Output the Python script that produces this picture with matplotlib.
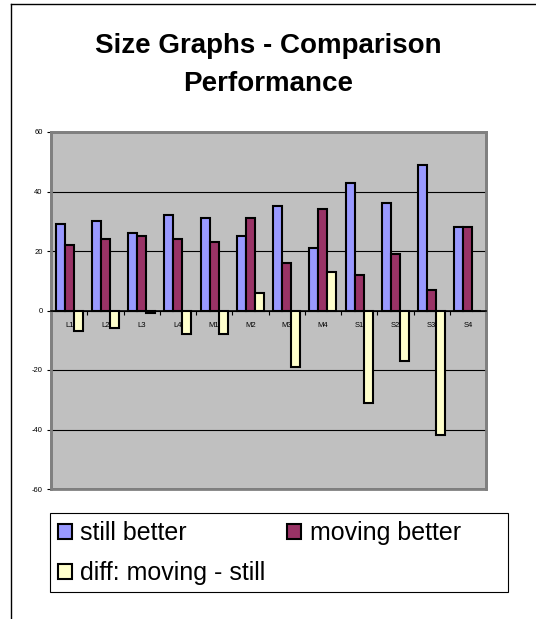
import matplotlib.pyplot as plt
import numpy as np
from matplotlib.patches import Rectangle
from matplotlib.lines import Line2D

plt.rcParams['font.family'] = ['Liberation Sans', 'DejaVu Sans']
plt.rcParams['axes.unicode_minus'] = False

categories = ['L1', 'L2', 'L3', 'L4', 'M1', 'M2', 'M3', 'M4', 'S1', 'S2', 'S3', 'S4']
still_better = [29, 30, 26, 32, 31, 25, 35, 21, 43, 36, 49, 28]
moving_better = [22, 24, 25, 24, 23, 31, 16, 34, 12, 19, 7, 28]
diff = [-7, -6, -1, -8, -8, 6, -19, 13, -31, -17, -42, 0]

W, H = 536, 619
fig = plt.figure(figsize=(W / 100, H / 100), dpi=100)

# outer chart frame (top and left edges visible)
fig.add_artist(Line2D([11 / W, 1], [1 - 4 / H, 1 - 4 / H], color='black', lw=1))
fig.add_artist(Line2D([11 / W, 11 / W], [0, 1 - 4 / H], color='black', lw=1))

fig.text(0.5, 1 - 65 / H, 'Size Graphs - Comparison\nPerformance', ha='center', va='center',
         fontsize=20, fontweight='bold', linespacing=1.6)

ax = fig.add_axes([51 / W, (H - 489) / H, 435 / W, (489 - 132) / H])
ax.set_facecolor('#C0C0C0')
ax.set_axisbelow(True)

x = np.arange(len(categories))
w = 0.25
b1 = ax.bar(x - w, still_better, w, color='#9999FF', edgecolor='black', lw=1.5)
b2 = ax.bar(x, moving_better, w, color='#993366', edgecolor='black', lw=1.5)
b3 = ax.bar(x + w, diff, w, color='#FFFFCC', edgecolor='black', lw=1.5)

ax.set_xlim(-0.5, len(categories) - 0.5)
ax.set_ylim(-60, 60)
ax.set_yticks(np.arange(-60, 61, 20))
ax.yaxis.grid(True, color='black', lw=0.8)
ax.tick_params(axis='y', labelsize=5.5, length=3, pad=3, color='black')

ax.spines['bottom'].set_position(('data', 0))
ax.spines['bottom'].set_linewidth(1.2)
for s in ['top', 'left', 'right']:
    ax.spines[s].set_color('#808080')
    ax.spines[s].set_linewidth(2)
ax.add_patch(Rectangle((0, 0), 1, 1, transform=ax.transAxes, fill=False,
                       ec='#808080', lw=2, clip_on=False, zorder=0.4))

ax.set_xticks(np.arange(len(categories) + 1) - 0.5)
ax.set_xticklabels([])
ax.set_xticks(x, minor=True)
ax.set_xticklabels(categories, minor=True)
ax.tick_params(axis='x', which='major', length=3, direction='out')
ax.tick_params(axis='x', which='minor', length=0, labelsize=5.5, pad=8.5)

handles = [b1, b3, b2]
labels = ['still better', 'diff: moving - still', 'moving better']
fig.add_artist(Rectangle((50 / W, 1 - 592 / H), 458 / W, 79 / H, transform=fig.transFigure,
                         fill=False, ec='black', lw=0.8))
fig.legend(handles, labels, ncol=2, loc='upper left', bbox_to_anchor=(58 / W, 1 - 521 / H),
           frameon=False, fontsize=18, borderpad=0, borderaxespad=0,
           handlelength=0.55, handleheight=0.55, handletextpad=0.35,
           columnspacing=0.85, labelspacing=0.65)

fig.savefig('out.png', dpi=100)
